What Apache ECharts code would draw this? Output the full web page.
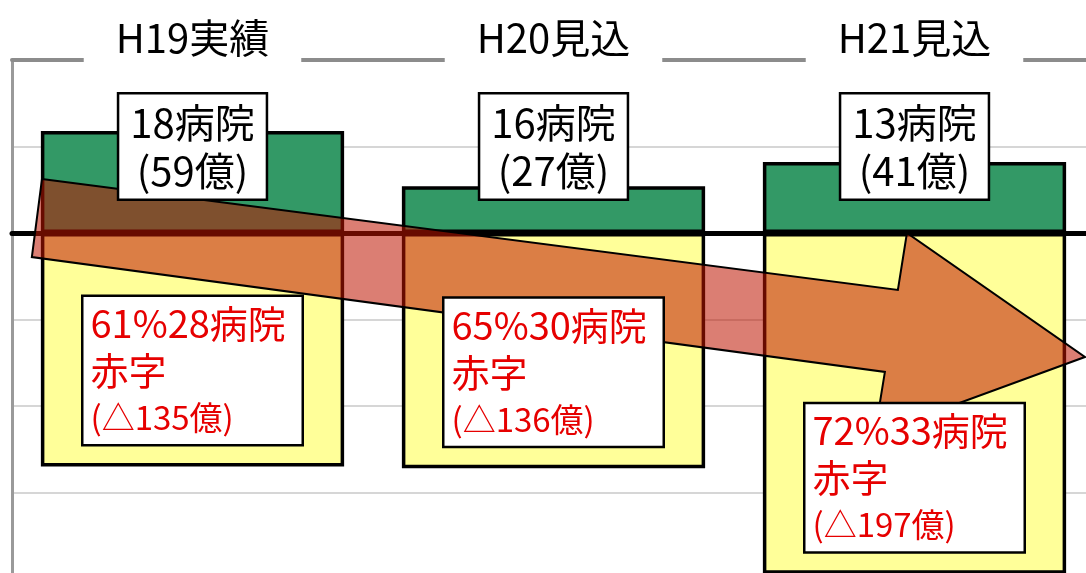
<!DOCTYPE html>
<html>
<head>
<meta charset="utf-8">
<script src="https://cdn.jsdelivr.net/npm/echarts@6/dist/echarts.min.js"></script>
<style>
  html, body { margin: 0; padding: 0; background: #fff; }
  #chart { width: 1086px; height: 573px; }
</style>
</head>
<body>
<div id="chart"></div>
<script>
// 年度区分
const years = ['H19実績', 'H20見込', 'H21見込'];
// 黒字病院数と黒字額（億円）
const profitHospitals = [18, 16, 13];
const profitAmount = [59, 27, 41];
// 赤字病院の割合（%）、病院数、赤字額（億円）
const deficitShare = [61, 65, 72];
const deficitHospitals = [28, 30, 33];
const deficitAmount = [-135, -136, -197];
// 縦軸の範囲と目盛間隔（億円）
const valueMin = -200;
const valueMax = 100;
const valueStep = 50;
// 悪化傾向を示す矢印の輪郭: [年度方向の位置 (0〜3), 金額]
const trendArrow = [
  [0.083, 31.2], [2.454, -32.9], [2.479, 0], [2.972, -71.7],
  [2.390, -116.2], [2.418, -80.3], [0.055, -13.9]
];

const FONT = '"Noto Sans CJK JP", "Noto Sans", sans-serif';
const RED = '#e60000';
const LABEL_ROW = 50; // 黒字ラベルを並べる高さ（億円）

const chart = echarts.init(document.getElementById('chart'), null, { renderer: 'canvas' });

// ラベル専用の散布図（点そのものは描かない）
function labelCarrier(data, label) {
  return {
    type: 'scatter',
    xAxisIndex: 0,
    z: 5,
    silent: true,
    symbolSize: 1,
    itemStyle: { color: 'transparent', opacity: 1 },
    emphasis: { disabled: true },
    data: data,
    label: Object.assign({ show: true, opacity: 1 }, label)
  };
}

chart.setOption({
  animation: false,
  backgroundColor: '#fff',
  grid: { left: 12, right: -9, top: 60, bottom: -6, containLabel: false, outerBoundsMode: 'none' },
  xAxis: [
    {
      type: 'category',
      data: years,
      position: 'top',
      axisLine: { onZero: false, lineStyle: { color: '#8c8c8c', width: 4 } },
      axisTick: { show: false },
      splitLine: { show: false },
      axisLabel: {
        interval: 0,
        margin: -8,
        fontFamily: FONT,
        fontSize: 40,
        lineHeight: 42,
        color: '#000',
        backgroundColor: '#fff',
        padding: [3, 32, 9, 32]
      }
    },
    {
      // 0 億円の基準線
      type: 'category',
      data: years,
      position: 'bottom',
      z: 3,
      axisLine: { onZero: true, lineStyle: { color: '#000', width: 5 } },
      axisTick: { show: false },
      axisLabel: { show: false },
      splitLine: { show: false }
    },
    {
      type: 'value',
      min: 0,
      max: 3,
      show: false,
      axisLine: { onZero: false },
      splitLine: { show: false }
    }
  ],
  yAxis: {
    type: 'value',
    min: valueMin,
    max: valueMax,
    interval: valueStep,
    axisLine: { show: true, onZero: false, lineStyle: { color: '#9a9a9a', width: 3 } },
    axisTick: { show: false },
    axisLabel: { show: false },
    splitLine: { lineStyle: { color: '#c8c8c8', width: 1.5 } }
  },
  series: [
    {
      name: '黒字',
      type: 'bar',
      stack: 'net',
      xAxisIndex: 0,
      data: profitAmount,
      barCategoryGap: '16%',
      z: 2,
      itemStyle: { color: '#339966', borderColor: '#000', borderWidth: 3.5 }
    },
    {
      name: '赤字',
      type: 'bar',
      stack: 'net',
      xAxisIndex: 0,
      data: deficitAmount,
      barCategoryGap: '16%',
      z: 2,
      itemStyle: { color: '#ffff99', borderColor: '#000', borderWidth: 3.5 }
    },
    {
      // 半透明の矢印
      type: 'custom',
      xAxisIndex: 2,
      yAxisIndex: 0,
      z: 4,
      silent: true,
      data: [[1.5, 0]],
      renderItem: function (params, api) {
        return {
          type: 'polygon',
          shape: { points: trendArrow.map(function (p) { return api.coord(p); }) },
          style: { fill: 'rgba(190,20,0,0.55)', stroke: '#000', lineWidth: 2 }
        };
      }
    },
    labelCarrier(
      profitAmount.map(function (v, i) { return [i, LABEL_ROW]; }),
      {
        position: 'inside',
        formatter: function (p) {
          const i = p.dataIndex;
          return profitHospitals[i] + '病院\n(' + profitAmount[i] + '億)';
        },
        fontFamily: FONT,
        fontSize: 40,
        lineHeight: 48,
        color: '#000',
        backgroundColor: '#fff',
        borderColor: '#000',
        borderWidth: 2.5,
        padding: [4, 11]
      }
    ),
    labelCarrier(
      deficitAmount.map(function (v, i) { return [i, v]; }),
      {
        position: 'top',
        distance: 22,
        width: 204,
        formatter: function (p) {
          const i = p.dataIndex;
          return '{a|' + deficitShare[i] + '%' + deficitHospitals[i] + '病院}\n' +
                 '{a|赤字}\n' +
                 '{b|(△' + (-deficitAmount[i]) + '億)}';
        },
        backgroundColor: '#fff',
        borderColor: '#000',
        borderWidth: 2.5,
        padding: [3, 7],
        rich: {
          a: { fontFamily: FONT, fontSize: 38, lineHeight: 47, color: RED, align: 'left' },
          b: { fontFamily: FONT, fontSize: 33, lineHeight: 47, color: RED, align: 'left' }
        }
      }
    )
  ]
});
</script>
</body>
</html>
